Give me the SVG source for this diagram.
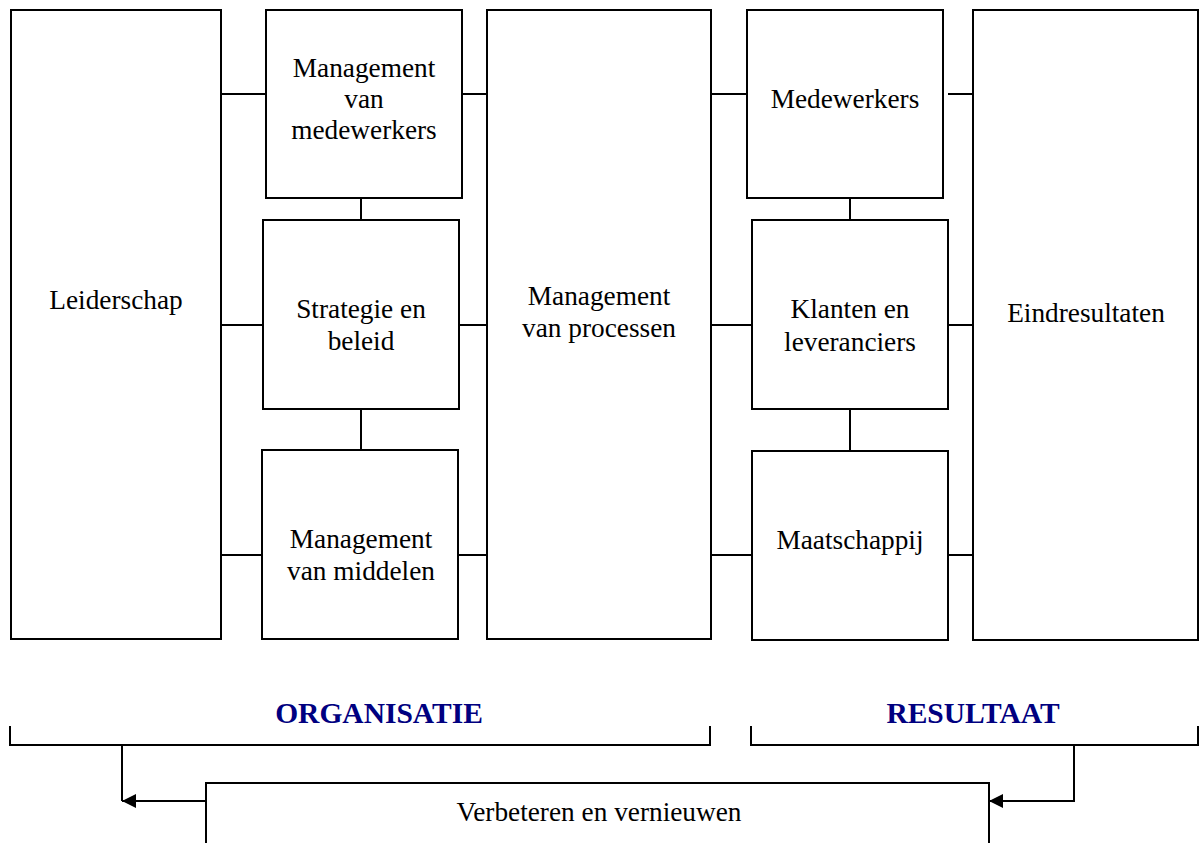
<svg xmlns="http://www.w3.org/2000/svg" width="1199" height="843" viewBox="0 0 1199 843">
<style>
.box{fill:#fff;stroke:#000;stroke-width:2}
.t{font-family:"Liberation Serif","Times New Roman",serif;font-size:27.3px;fill:#000;text-anchor:middle}
.h{font-family:"Liberation Serif","Times New Roman",serif;font-size:29.5px;font-weight:bold;fill:#000080;text-anchor:middle}
.c{fill:none;stroke:#000;stroke-width:2}
</style>
<defs>
<marker id="arr" viewBox="0 0 14 14" refX="14" refY="7" markerWidth="14" markerHeight="14" markerUnits="userSpaceOnUse" orient="auto">
<path d="M0,0 L14,7 L0,14 Z" fill="#000"/>
</marker>
</defs>
<rect width="1199" height="843" fill="#fff"/>
<g id="connectors">
<path class="c" d="M221,94H266M462,94H487M221,325H263M459,325H487M221,555H262M458,555H487"/>
<path class="c" d="M711,94H747M948,94H973M711,325H752M948,325H973M711,555H752M948,555H973"/>
<path class="c" d="M361,198V220M361,409V450M850,198V220M850,409V451"/>
<path class="c" d="M10,726V745H710V726"/>
<path class="c" d="M751,726V745H1198V726"/>
<path class="c" d="M206,801H122" marker-end="url(#arr)"/>
<path class="c" d="M122,745V801"/>
<path class="c" d="M1074,745V801H989" marker-end="url(#arr)"/>
</g>
<g id="leiderschap"><rect class="box" x="11" y="10" width="210" height="629"/><text class="t" x="116" y="309">Leiderschap</text></g>
<g id="mgmt-medewerkers"><rect class="box" x="266" y="10" width="196" height="188"/><text class="t" x="364" y="77">Management</text><text class="t" x="364" y="108">van</text><text class="t" x="364" y="139">medewerkers</text></g>
<g id="strategie"><rect class="box" x="263" y="220" width="196" height="189"/><text class="t" x="361" y="318">Strategie en</text><text class="t" x="361" y="350">beleid</text></g>
<g id="mgmt-middelen"><rect class="box" x="262" y="450" width="196" height="189"/><text class="t" x="361" y="548">Management</text><text class="t" x="361" y="580">van middelen</text></g>
<g id="mgmt-processen"><rect class="box" x="487" y="10" width="224" height="629"/><text class="t" x="599" y="305">Management</text><text class="t" x="599" y="337">van processen</text></g>
<g id="medewerkers"><rect class="box" x="747" y="10" width="196" height="188"/><text class="t" x="845" y="108">Medewerkers</text></g>
<g id="klanten"><rect class="box" x="752" y="220" width="196" height="189"/><text class="t" x="850" y="318">Klanten en</text><text class="t" x="850" y="351">leveranciers</text></g>
<g id="maatschappij"><rect class="box" x="752" y="451" width="196" height="189"/><text class="t" x="850" y="549">Maatschappij</text></g>
<g id="eindresultaten"><rect class="box" x="973" y="10" width="225" height="630"/><text class="t" x="1086" y="322">Eindresultaten</text></g>
<g id="organisatie"><text class="h" x="379" y="723">ORGANISATIE</text></g>
<g id="resultaat"><text class="h" x="973" y="723">RESULTAAT</text></g>
<g id="verbeteren"><rect class="box" x="206" y="783" width="783" height="80"/><text class="t" x="599" y="821">Verbeteren en vernieuwen</text></g>
</svg>
